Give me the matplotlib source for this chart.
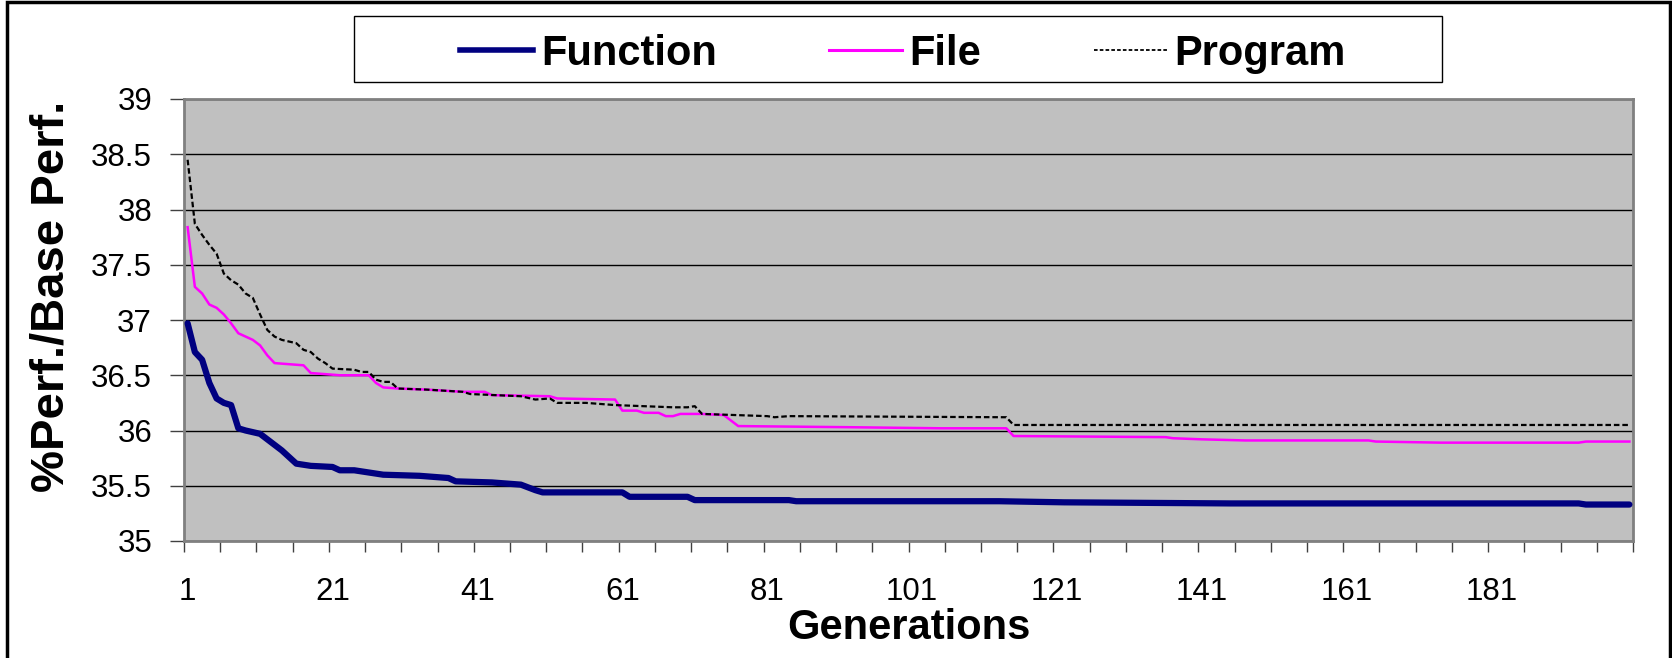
import numpy as np
import matplotlib
matplotlib.use("Agg")
import matplotlib.pyplot as plt
from matplotlib.patches import Rectangle
from matplotlib.lines import Line2D

plt.rcParams['font.family'] = ['Liberation Sans', 'DejaVu Sans']

# best-so-far values per generation at the points where they change
func_gen = [1, 2, 3, 4, 5, 6, 7, 8, 9, 11, 13, 14, 16, 18, 21, 22, 24, 28, 33, 37, 38, 43,
            47, 49, 50, 61, 62, 70, 71, 84, 85, 113, 122, 145, 193, 194, 200]
func_val = [36.97, 36.71, 36.64, 36.43, 36.29, 36.25, 36.23, 36.02, 36.00, 35.97, 35.87, 35.82,
            35.70, 35.68, 35.67, 35.64, 35.64, 35.60, 35.59, 35.57, 35.54, 35.53, 35.51, 35.46,
            35.44, 35.44, 35.40, 35.40, 35.37, 35.37, 35.36, 35.36, 35.35, 35.34, 35.34, 35.33, 35.33]

file_gen = [1, 2, 3, 4, 5, 6, 7, 8, 10, 11, 12, 13, 15, 17, 18, 22, 26, 27, 28, 30, 34, 39, 42,
            43, 51, 52, 60, 61, 63, 64, 66, 67, 68, 69, 72, 75, 77, 92, 105, 114, 115, 136, 137,
            141, 147, 164, 165, 174, 193, 194, 200]
file_val = [37.84, 37.30, 37.24, 37.14, 37.11, 37.05, 36.97, 36.88, 36.82, 36.77, 36.68, 36.61,
            36.60, 36.59, 36.52, 36.50, 36.50, 36.43, 36.39, 36.38, 36.37, 36.35, 36.35, 36.32,
            36.31, 36.29, 36.28, 36.18, 36.18, 36.16, 36.16, 36.13, 36.13, 36.15, 36.15, 36.14,
            36.04, 36.03, 36.02, 36.02, 35.95, 35.94, 35.93, 35.92, 35.91, 35.91, 35.90, 35.89,
            35.89, 35.90, 35.90]

prog_gen = [1, 2, 3, 4, 5, 6, 7, 8, 9, 10, 11, 12, 13, 14, 16, 17, 18, 19, 20, 21, 24, 25, 26,
            27, 28, 29, 30, 34, 39, 40, 47, 49, 51, 52, 56, 60, 64, 68, 70, 71, 72, 81, 82, 84,
            114, 115, 200]
prog_val = [38.45, 37.87, 37.77, 37.68, 37.60, 37.42, 37.36, 37.32, 37.24, 37.20, 37.05, 36.91,
            36.85, 36.82, 36.79, 36.73, 36.71, 36.65, 36.61, 36.56, 36.55, 36.53, 36.53, 36.46,
            36.44, 36.44, 36.38, 36.37, 36.35, 36.33, 36.31, 36.28, 36.29, 36.25, 36.25, 36.23,
            36.22, 36.21, 36.21, 36.22, 36.15, 36.13, 36.12, 36.13, 36.12, 36.05, 36.05]

n_gen = 200
x_labels = list(range(1, 182, 20))
y_ticks = np.arange(35, 39.01, 0.5)

W, H = 1672, 658
fig = plt.figure(figsize=(W / 100, H / 100), dpi=100)
fig.patch.set_facecolor('white')

# outer chart border
fig.patches.append(Rectangle((7 / W, -0.05), (1670 - 7) / W, 1.05 - 2 / H, transform=fig.transFigure,
                             fill=False, edgecolor='black', lw=2.5))

L, R, T, B = 184, 1633, 99, 541
ax = fig.add_axes([L / W, 1 - B / H, (R - L) / W, (B - T) / H])
ax.set_facecolor('#C0C0C0')

ax.plot(func_gen, func_val, color='#000080', lw=4.5, solid_capstyle='round', zorder=3)
ax.plot(file_gen, file_val, color='#FF00FF', lw=1.8, zorder=3)
ax.plot(prog_gen, prog_val, color='black', lw=1.6, dashes=(2.5, 1.3), zorder=4)

ax.set_xlim(0.5, n_gen + 0.5)
ax.set_ylim(35, 39)
ax.set_yticks(y_ticks)
ax.set_yticklabels(['%g' % v for v in y_ticks])
ax.set_xticks(x_labels)
ax.set_xticks(np.arange(0.5, n_gen + 1, 5), minor=True)
ax.tick_params(axis='x', which='major', length=0, labelsize=22.5, pad=26)
ax.tick_params(axis='x', which='minor', length=8, width=1, color='#404040', direction='out')
ax.tick_params(axis='y', length=10, width=1, color='#404040', labelsize=22.5, pad=13)
ax.yaxis.grid(True, color='black', lw=1)
ax.set_axisbelow(True)
for s in ax.spines.values():
    s.set_color('#808080')
    s.set_linewidth(2)

fig.text((L + R) / 2 / W, 1 - 628 / H, 'Generations', ha='center', va='center',
         fontsize=30, fontweight='bold')
fig.text(52 / W, 1 - 296 / H, '%Perf./Base Perf.', ha='center', va='center', rotation=90,
         fontsize=34, fontweight='bold')

# legend box
lx0, lx1, ly0, ly1 = 354, 1442, 16, 82
fig.patches.append(Rectangle((lx0 / W, 1 - ly1 / H), (lx1 - lx0) / W, (ly1 - ly0) / H,
                             transform=fig.transFigure, fill=True, facecolor='white',
                             edgecolor='black', lw=1))
handles = [Line2D([], [], color='#000080', lw=4),
           Line2D([], [], color='#FF00FF', lw=2.2),
           Line2D([], [], color='black', lw=1.3, dashes=(2, 1.2))]
fig.legend(handles, ['Function', 'File', 'Program'], loc='center',
           bbox_to_anchor=((lx0 + lx1) / 2 / W + 0.003, 1 - ((ly0 + ly1) / 2 + 5) / H),
           ncol=3, frameon=False, prop={'weight': 'bold', 'size': 30},
           handlelength=1.75, handletextpad=0.18, columnspacing=2.7)

fig.savefig('out.png', dpi=100)
